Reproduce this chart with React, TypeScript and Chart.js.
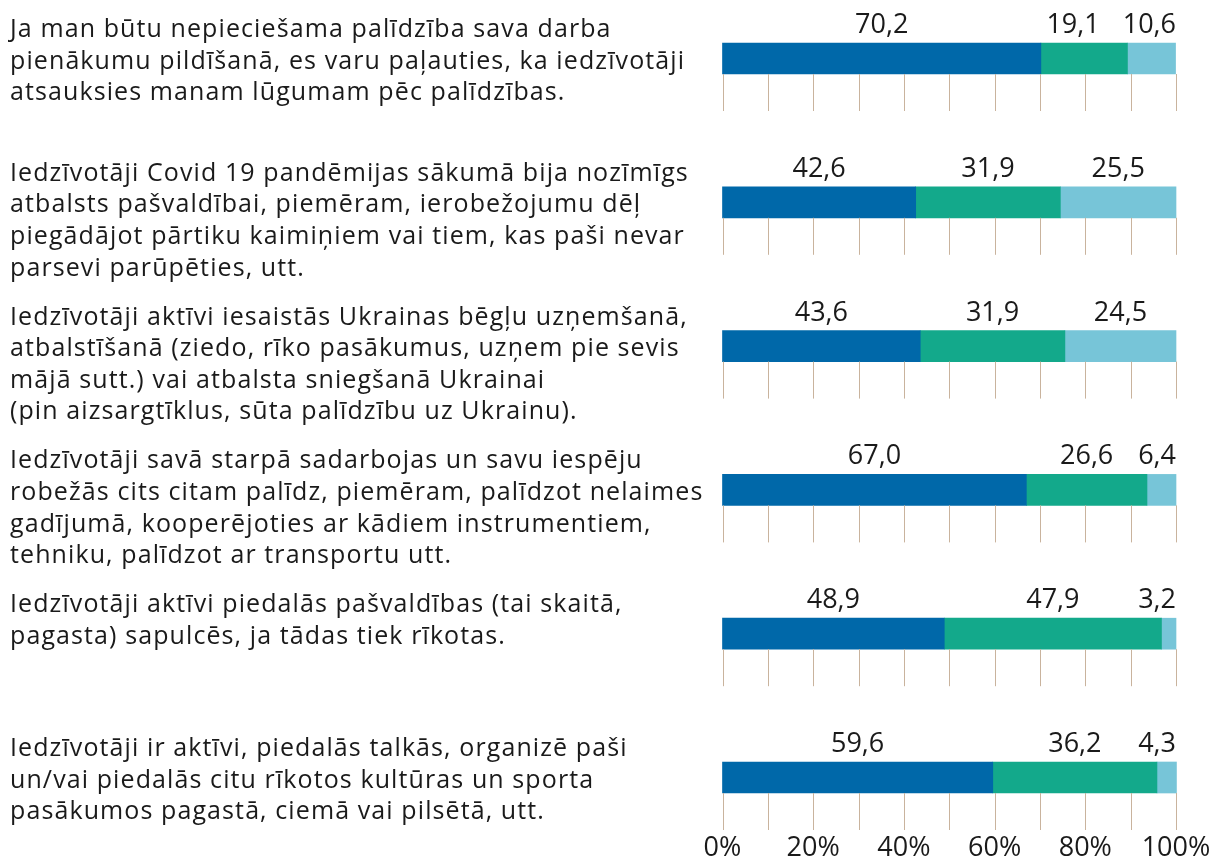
import React, { useEffect, useRef } from "react";
import { Chart, registerables } from "chart.js";

Chart.register(...registerables);

const categories: string[][] = [
  [
    "Ja man būtu nepieciešama palīdzība sava darba",
    "pienākumu pildīšanā, es varu paļauties, ka iedzīvotāji",
    "atsauksies manam lūgumam pēc palīdzības.",
  ],
  [
    "Iedzīvotāji Covid 19 pandēmijas sākumā bija nozīmīgs",
    "atbalsts pašvaldībai, piemēram, ierobežojumu dēļ",
    "piegādājot pārtiku kaimiņiem vai tiem, kas paši nevar",
    "parsevi parūpēties, utt.",
  ],
  [
    "Iedzīvotāji aktīvi iesaistās Ukrainas bēgļu uzņemšanā,",
    "atbalstīšanā (ziedo, rīko pasākumus, uzņem pie sevis",
    "mājā sutt.) vai atbalsta sniegšanā Ukrainai",
    "(pin aizsargtīklus, sūta palīdzību uz Ukrainu).",
  ],
  [
    "Iedzīvotāji savā starpā sadarbojas un savu iespēju",
    "robežās cits citam palīdz, piemēram, palīdzot nelaimes",
    "gadījumā, kooperējoties ar kādiem instrumentiem,",
    "tehniku, palīdzot ar transportu utt.",
  ],
  [
    "Iedzīvotāji aktīvi piedalās pašvaldības (tai skaitā,",
    "pagasta) sapulcēs, ja tādas tiek rīkotas.",
  ],
  [
    "Iedzīvotāji ir aktīvi, piedalās talkās, organizē paši",
    "un/vai piedalās citu rīkotos kultūras un sporta",
    "pasākumos pagastā, ciemā vai pilsētā, utt.",
  ],
];

const seriesA: number[] = [70.2, 42.6, 43.6, 67.0, 48.9, 59.6];
const seriesB: number[] = [19.1, 31.9, 31.9, 26.6, 47.9, 36.2];
const seriesC: number[] = [10.6, 25.5, 24.5, 6.4, 3.2, 4.3];

const xTicks: number[] = [0, 20, 40, 60, 80, 100];
const gridTicks: number[] = [0, 10, 20, 30, 40, 50, 60, 70, 80, 90, 100];

const FONT = "'Open Sans', 'DejaVu Sans', sans-serif";
const BAR = 31;

const fmt = (v: number) => v.toFixed(1).replace(".", ",");

const overlayPlugin = {
  id: "overlay",
  afterDatasetsDraw(chart: any) {
    const ctx = chart.ctx as CanvasRenderingContext2D;
    const xs = chart.scales.x;
    const ys = chart.scales.y;
    const area = chart.chartArea;
    ctx.save();

    // segmented tick lines under each bar
    ctx.strokeStyle = "#c9b39d";
    ctx.lineWidth = 1;
    categories.forEach((_, i) => {
      const yb = ys.getPixelForValue(i) + BAR / 2;
      gridTicks.forEach((t) => {
        const x = Math.round(xs.getPixelForValue(t)) + 0.5;
        ctx.beginPath();
        ctx.moveTo(x, yb);
        ctx.lineTo(x, yb + 37);
        ctx.stroke();
      });
    });

    // value labels
    ctx.font = `27px ${FONT}`;
    ctx.fillStyle = "#1a1a1a";
    ctx.textAlign = "center";
    ctx.textBaseline = "alphabetic";
    const datasets = chart.data.datasets;
    categories.forEach((_, i) => {
      const yBase = ys.getPixelForValue(i) - BAR / 2 - 10;
      let limit = area.right;
      let cum = 0;
      const segs = datasets.map((ds: any) => {
        const v = ds.data[i] as number;
        const s = cum;
        cum += v;
        return { v, s, e: cum };
      });
      for (let k = segs.length - 1; k >= 0; k--) {
        const seg = segs[k];
        const text = fmt(seg.v);
        const w = ctx.measureText(text).width;
        const c = (xs.getPixelForValue(seg.s) + xs.getPixelForValue(seg.e)) / 2;
        const cx = Math.min(c, limit - w / 2);
        ctx.fillText(text, cx, yBase);
        limit = cx - w / 2 - 23;
      }
    });

    // category labels
    ctx.font = `25px ${FONT}`;
    (ctx as any).letterSpacing = "1.1px";
    ctx.textAlign = "left";
    ctx.fillStyle = "#1a1a1a";
    (chart.data.labels as string[][]).forEach((lines, i) => {
      const y0 = ys.getPixelForValue(i) - BAR / 2 - 6;
      lines.forEach((ln, j) => {
        ctx.fillText(ln, 10, y0 + j * 31.6);
      });
    });

    ctx.restore();
  },
};

export default function App() {
  const ref = useRef<HTMLCanvasElement>(null);
  useEffect(() => {
    document.body.style.margin = "0";
    if (!ref.current) return;
    const chart = new Chart(ref.current, {
      type: "bar",
      data: {
        labels: categories as any,
        datasets: [
          { data: seriesA, backgroundColor: "#0068a9", barThickness: BAR, clip: false as any },
          { data: seriesB, backgroundColor: "#13a98b", barThickness: BAR, clip: false as any },
          { data: seriesC, backgroundColor: "#77c5d8", barThickness: BAR, clip: false as any },
        ],
      },
      options: {
        indexAxis: "y",
        responsive: false,
        animation: false,
        layout: { padding: { left: 722.5, right: 36, top: 58.5, bottom: 0 } },
        plugins: { legend: { display: false }, tooltip: { enabled: false } },
        scales: {
          x: {
            type: "linear",
            stacked: true,
            min: 0,
            max: 100,
            afterBuildTicks: (axis: any) => {
              axis.ticks = xTicks.map((v) => ({ value: v }));
            },
            afterFit: (axis: any) => {
              axis.height = 79.5;
              axis.paddingLeft = 0;
              axis.paddingRight = 0;
            },
            grid: { display: false, drawTicks: false },
            border: { display: false },
            ticks: {
              padding: 57,
              color: "#1a1a1a",
              font: { family: FONT, size: 27, lineHeight: 1 },
              callback: (v: any) => `${v}%`,
              maxRotation: 0,
            },
          },
          y: {
            type: "category",
            stacked: true,
            offset: false,
            display: false,
          },
        },
      },
      plugins: [overlayPlugin],
    });
    return () => chart.destroy();
  }, []);
  return (
    <div style={{ width: 1212, height: 857 }}>
      <canvas ref={ref} width={1212} height={857} />
    </div>
  );
}
